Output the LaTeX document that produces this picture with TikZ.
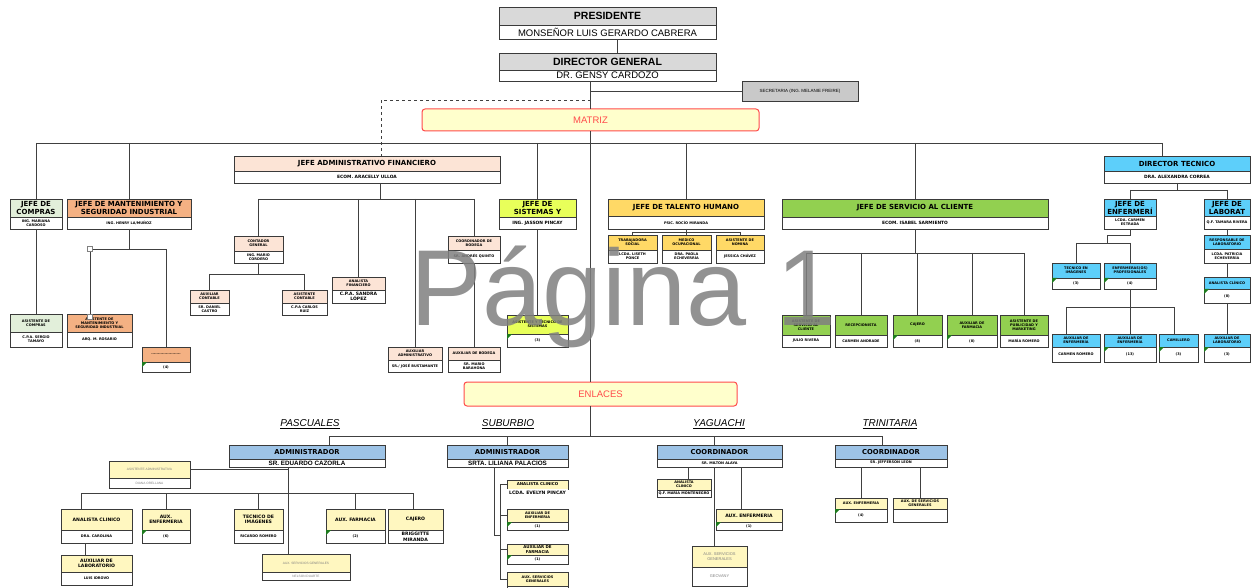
\documentclass[tikz,border=0pt]{standalone}
\usepackage{fontspec}
\setmainfont{Liberation Sans}
\newfontfamily\djv{DejaVu Sans}
\usetikzlibrary{calc}
\definecolor{cGray}{HTML}{D9D9D9}
\definecolor{cSec}{HTML}{C9C9C9}
\definecolor{cRed}{HTML}{FF4B4B}
\definecolor{cCream}{HTML}{FFFFCC}
\definecolor{cGreenL}{HTML}{E2EFDA}
\definecolor{cOrange}{HTML}{F4B183}
\definecolor{cPeach}{HTML}{FCE4D6}
\definecolor{cLime}{HTML}{E8FF5A}
\definecolor{cYellow}{HTML}{FFD966}
\definecolor{cGreen}{HTML}{92D050}
\definecolor{cSky}{HTML}{5DCFFA}
\definecolor{cBlue}{HTML}{9DC3E6}
\definecolor{cYel}{HTML}{FFF7C0}
\definecolor{bd}{HTML}{3A3A3A}
\definecolor{ln}{HTML}{404040}
\definecolor{cTri}{HTML}{1E7B1E}
\definecolor{cWm}{HTML}{808080}
\newcommand\zBig{\fontsize{10.5}{12}\selectfont\bfseries}
\newcommand\zBigS{\fontsize{9.5}{11}\selectfont}
\newcommand\zJ{\djv\bfseries\fontsize{7}{8}\selectfont}
\newcommand\zJs{\djv\bfseries\fontsize{4.4}{5}\selectfont}
\newcommand\zS{\djv\bfseries\fontsize{3.5}{4.2}\selectfont}
\newcommand\zSf{\djv\bfseries\fontsize{4}{4.8}\selectfont}
\newcommand\zSe{\djv\bfseries\fontsize{4.6}{5.2}\selectfont}
\newcommand\zAn{\djv\bfseries\fontsize{4.5}{5}\selectfont}
\newcommand\zM{\djv\bfseries\fontsize{4.6}{5.6}\selectfont}
\newcommand\zA{\djv\bfseries\fontsize{6.8}{8}\selectfont}
\newcommand\zAs{\bfseries\fontsize{6.3}{7}\selectfont}
\newcommand\zG{\color{gray}\fontsize{3.2}{4}\selectfont}
\newcommand\zGG{\color{gray}\fontsize{4}{5}\selectfont}
\newcommand\zSec{\fontsize{4.5}{5}\selectfont}
\newcommand\cursf{\zS}
\tikzset{subfont/.code={\gdef\cursf{#1}}}
% box: name, x1, x2, ytop, ymid, ybot, title style, title, subtitle
\newcommand\ob[9]{%
  \gdef\cursf{\zS}%
  \node[tpart,#7,minimum width={#3-#2},minimum height={#5-#4},anchor=north] (#1-t) at ({(#2+#3)/2},#4) {#8};
  \node[bpart,font=\cursf,minimum width={#3-#2},minimum height={#6-#5},anchor=north] (#1-b) at (#1-t.south) {#9};
}
\newcommand\obn[9]{%
  \gdef\cursf{\zS}%
  \node[tpart,#7,minimum width={#3-#2},minimum height={#5-#4},anchor=north] (#1-t) at ({(#2+#3)/2},#4) {#8};
  \node[bpart,draw=none,font=\cursf,minimum width={#3-#2},minimum height={#6-#5},anchor=north] (#1-b) at (#1-t.south) {#9};
}
\newcommand\tri[1]{\fill[cTri] (#1-b.north west) -- ($(#1-b.north west)+(5,0)$) -- ($(#1-b.north west)+(0,5)$) -- cycle;}
\begin{document}
\begin{tikzpicture}[x=1pt,y=-1pt,
  tpart/.style={draw=bd,line width=0.9pt,inner sep=0pt,outer sep=0pt,align=center,font=\zS},
  bpart/.style={draw=bd,line width=0.9pt,inner sep=0pt,outer sep=0pt,align=center,fill=white},
  con/.style={draw=ln,line width=0.9pt},
  handle/.style={draw=gray,fill=white,line width=0.6pt,minimum size=5pt,inner sep=0pt},
  lbl/.style={font=\fontsize{10}{12}\selectfont\itshape,inner sep=0pt},
  band/.style={draw=cRed,line width=1pt,rounded corners=3pt,fill=cCream,inner sep=0pt,outer sep=0pt,text=cRed,font=\fontsize{9.5}{11}\selectfont,anchor=north west}
]
\path[use as bounding box] (0,0) rectangle (1251,588);
\clip (0,0) rectangle (1251,588);
\fill[white] (0,0) rectangle (1251,588);

% ---------- top ----------
\ob{pres}{499}{716}{7}{25}{39}{fill=cGray,font=\zBig,subfont=\zBigS}{PRESIDENTE}{MONSEÑOR LUIS GERARDO CABRERA}
\ob{dg}{499}{716}{53}{70}{81}{fill=cGray,font=\zBig,subfont=\zBigS}{DIRECTOR GENERAL}{DR. GENSY CARDOZO}
\node[tpart,fill=cSec,font=\zSec,minimum width=116,minimum height=20,anchor=north west] (sec) at (742,81) {SECRETARIA (ING. MELANIE FREIRE)};
\node[band,minimum width=337,minimum height=22] (matriz) at (422,109) {MATRIZ};
\node[band,minimum width=273,minimum height=24] (enl) at (464,382) {ENLACES};

% ---------- jefes ----------
\ob{comp}{10}{62}{199}{217}{229}{fill=cGreenL,font=\zJ}{JEFE DE\\COMPRAS}{ING. MARIANA\\CARDOSO}
\ob{mant}{67}{191}{199}{217}{229}{fill=cOrange,font=\zJ}{JEFE DE MANTENIMIENTO Y\\SEGURIDAD INDUSTRIAL}{ING. HENRY LA/MUÑOZ}
\ob{adm}{234}{500}{156}{171}{183}{fill=cPeach,font=\zJ,subfont=\zJs}{JEFE ADMINISTRATIVO FINANCIERO}{ECOM. ARACELLY ULLOA}
\ob{sis}{499}{576}{199}{217}{229}{fill=cLime,font=\zJ,subfont=\zJs}{JEFE DE\\SISTEMAS Y}{ING. JASSON PINCAY}
\ob{th}{608}{764}{199}{216}{229}{fill=cYellow,font=\zJ}{JEFE DE TALENTO HUMANO}{PSIC. ROCÍO MIRANDA}
\ob{sc}{782}{1048}{199}{217}{229}{fill=cGreen,font=\zJ,subfont=\zJs}{JEFE DE SERVICIO AL CLIENTE}{ECOM. ISABEL SARMIENTO}
\ob{dt}{1104}{1250}{156}{171}{183}{fill=cSky,font=\zJ,subfont=\zJs}{DIRECTOR TECNICO}{DRA. ALEXANDRA CORREA}

% ---------- compras / mantenimiento ----------
\ob{acomp}{10}{62}{314}{332}{347}{fill=cGreenL}{ASISTENTE DE\\COMPRAS}{C.P.A. SERGIO\\TAMAYO}
\ob{amant}{67}{132}{314}{332}{347}{fill=cOrange}{ASISTENTE DE\\MANTENIMIENTO Y\\SEGURIDAD INDUSTRIAL}{ARQ. M. ROSARIO}
\ob{dots}{142}{190}{347}{362}{372}{fill=cOrange}{......................}{(4)}
\tri{dots}

% ---------- administrativo ----------
\ob{cont}{234}{283}{236}{251}{263}{fill=cPeach}{CONTADOR\\GENERAL}{ING. MARIO\\CORDERO}
\ob{auxc}{190}{229}{290}{303}{315}{fill=cPeach}{AUXILIAR\\CONTABLE}{SR. DANIEL\\CASTRO}
\ob{asic}{282}{327}{290}{303}{315}{fill=cPeach}{ASISTENTE\\CONTABLE}{C.P.A CARLOS\\RUIZ}
\ob{anfi}{332}{385}{277}{290}{303}{fill=cPeach,subfont=\zAn}{ANALISTA\\FINANCIERO}{C.P.A. SANDRA\\LÓPEZ}
\ob{bod}{448}{500}{236}{250}{263}{fill=cPeach}{COORDINADOR DE\\BODEGA}{SR. ANDRÉS QUINTO}
\ob{aadm}{388}{442}{347}{360}{372}{fill=cPeach}{AUXILIAR\\ADMINISTRATIVO}{SR./ JOSÉ BUSTAMANTE}
\ob{abod}{448}{500}{347}{360}{372}{fill=cPeach}{AUXILIAR DE BODEGA}{SR. MARIO\\BARAHONA}

% ---------- sistemas ----------
\ob{ats}{507}{568}{315}{334}{347}{fill=cLime}{ASISTENTE Y TECNICO DE\\SISTEMAS}{(3)}
\tri{ats}

% ---------- talento humano ----------
\ob{ts}{608}{657}{235}{250}{263}{fill=cYellow}{TRABAJADORA\\SOCIAL}{LCDA. LISETH\\PONCE}
\ob{mo}{662}{711}{235}{250}{263}{fill=cYellow}{MEDICO\\OCUPACIONAL}{DRA. PAOLA\\ECHEVERRÍA}
\ob{an}{716}{764}{235}{250}{263}{fill=cYellow}{ASISTENTE DE\\NOMINA}{JESSICA CHÁVEZ}

% ---------- servicio al cliente ----------
\ob{sc1}{782}{830}{315}{335}{347}{fill=cGreen}{ASISTENTE DE\\SERVICIO AL\\CLIENTE}{JULIO RIVERA}
\ob{sc2}{835}{887}{315}{335}{347}{fill=cGreen}{RECEPCIONISTA}{CARMEN ANDRADE}
\ob{sc3}{893}{942}{315}{335}{347}{fill=cGreen}{CAJERO}{(8)}
\ob{sc4}{947}{997}{315}{335}{347}{fill=cGreen}{AUXILIAR DE\\FARMACIA}{(8)}
\ob{sc5}{1000}{1048}{315}{335}{347}{fill=cGreen}{ASISTENTE DE\\PUBLICIDAD Y\\MARKETING}{MARÍA ROMERO}
\tri{sc3}\tri{sc4}

% ---------- director tecnico ----------
\ob{enf}{1104}{1156}{199}{216}{229}{fill=cSky,font=\zJ}{JEFE DE\\ENFERMERÍ}{LCDA. CARMEN\\ESTRADA}
\ob{lab}{1204}{1250}{199}{216}{229}{fill=cSky,font=\zJ}{JEFE DE\\LABORAT}{Q.F. TAMARA RIVERA}
\ob{resp}{1204}{1250}{235}{249}{263}{fill=cSky}{RESPONSABLE DE\\LABORATORIO}{LCDA. PATRICIA\\ECHEVERRÍA}
\ob{anlab}{1204}{1250}{277}{289}{303}{fill=cSky}{ANALISTA CLÍNICO}{(8)}
\ob{auxlab}{1204}{1250}{334}{347}{362}{fill=cSky}{AUXILIAR DE\\LABORATORIO}{(3)}
\ob{timg}{1052}{1100}{263}{278}{289}{fill=cSky}{TECNICO EN\\IMÁGENES}{(3)}
\ob{enfp}{1104}{1156}{263}{278}{289}{fill=cSky}{ENFERMERAS(OS)\\PROFESIONALES}{(4)}
\ob{auxe1}{1052}{1100}{334}{347}{362}{fill=cSky}{AUXILIAR DE\\ENFERMERÍA}{CARMEN ROMERO}
\ob{auxe2}{1104}{1156}{334}{347}{362}{fill=cSky}{AUXILIAR DE\\ENFERMERÍA}{(13)}
\ob{cami}{1159}{1198}{334}{347}{362}{fill=cSky}{CAMILLERO}{(3)}
\tri{anlab}\tri{auxlab}\tri{timg}\tri{enfp}\tri{auxe2}\tri{cami}

% ---------- enlaces ----------
\ob{pas}{229}{385}{445}{459}{467}{fill=cBlue,font=\zA,subfont=\zAs}{ADMINISTRADOR}{SR. EDUARDO CAZORLA}
\ob{sub}{447}{568}{445}{459}{467}{fill=cBlue,font=\zA,subfont=\zAs}{ADMINISTRADOR}{SRTA. LILIANA PALACIOS}
\ob{yag}{657}{782}{445}{459}{467}{fill=cBlue,font=\zA}{COORDINADOR}{SR. MILTON ALAYA}
\ob{tri}{835}{947}{445}{459}{467}{fill=cBlue,font=\zA}{COORDINADOR}{SR. JEFFERSON LEON}
\node[lbl] (lpas) at (310,424) {\underline{PASCUALES}};
\node[lbl] (lsub) at (508,424) {\underline{SUBURBIO}};
\node[lbl] (lyag) at (719,424) {\underline{YAGUACHI}};
\node[lbl] (ltri) at (890,424) {\underline{TRINITARIA}};

% Pascuales
\ob{aadma}{109}{190}{461}{478}{488}{fill=cYel,font=\zG,subfont=\zG}{ASISTENTE ADMINISTRATIVA}{DIANA ORELLANA}
\ob{pac}{61}{132}{509}{530}{543}{fill=cYel,font=\zM}{ANALISTA CLINICO}{DRA. CAROLINA}
\ob{pae}{142}{190}{509}{530}{543}{fill=cYel,font=\zM}{AUX.\\ENFERMERIA}{(6)}
\ob{pti}{234}{283}{509}{530}{543}{fill=cYel,font=\zM}{TECNICO DE\\IMÁGENES}{RICARDO ROMERO}
\ob{paf}{326}{385}{509}{530}{543}{fill=cYel,font=\zM}{AUX. FARMACIA}{(2)}
\ob{pcj}{388}{443}{509}{530}{543}{fill=cYel,font=\zM,subfont=\zM}{CAJERO}{BRIGGITTE\\MIRANDA}
\ob{pal}{61}{132}{555}{572}{585}{fill=cYel,font=\zM}{AUXILIAR DE\\LABORATORIO}{LUIS IDROVO}
\ob{pasg}{262}{350}{554}{572}{580}{fill=cYel,font=\zG,subfont=\zG}{AUX. SERVICIOS GENERALES}{NELSON DUARTE}
\tri{pae}\tri{paf}

% Suburbio
\obn{sac}{507}{568}{480}{489}{497}{fill=cYel,font=\zSf,subfont=\zSe}{ANALISTA CLINICO}{LCDA. EVELYN PINCAY}
\ob{sae}{507}{568}{509}{522}{530}{fill=cYel}{AUXILIAR DE\\ENFERMERIA}{(1)}
\ob{saf}{507}{568}{544}{555}{564}{fill=cYel,font=\zSf}{AUXILIAR DE\\FARMACIA}{(1)}
\ob{ssg}{507}{568}{572}{586}{600}{fill=cYel}{AUX. SERVICIOS\\GENERALES}{}
\tri{sae}\tri{saf}

% Yaguachi
\ob{yac}{657}{711}{479}{490}{497}{fill=cYel}{ANALISTA\\CLINICO}{Q.F. MARÍA MONTENEGRO}
\ob{yae}{716}{782}{509}{522}{530}{fill=cYel,font=\zM}{AUX. ENFERMERIA}{(1)}
\ob{ysg}{692}{747}{546}{567}{586}{fill=cYel,font=\zGG,subfont=\zGG}{AUX. SERVICIOS\\GENERALES}{GEOVANY}
\tri{yae}

% Trinitaria
\ob{tae}{835}{887}{498}{509}{522}{fill=cYel}{AUX. ENFERMERIA}{(4)}
\ob{tsg}{893}{947}{498}{509}{522}{fill=cYel}{AUX. DE SERVICIOS\\GENERALES}{}
\tri{tae}

% ---------- connectors ----------
\draw[con] ($(pres-b.south)+(10,0)$) -- ($(dg-t.north)+(10,0)$);
\draw[con] (dg-b.south -| matriz.north) -- (matriz.north);
\draw[con] (sec.west) -- (sec.west -| matriz.north);
\coordinate (dsh) at (381,100);
\draw[con,dashed] (dsh -| matriz.north) -- (dsh) -- (dsh |- adm-t.north);
\coordinate (busL) at (36,143);
\coordinate (busR) at (1162,143);
\draw[con] (busL) -- (busR);
\draw[con] (matriz.south) -- (enl.north -| matriz.south);
\draw[con] (busL) -- (comp-t.north);
\draw[con] (mant-t.north |- busL) -- (mant-t.north);
\draw[con] (sis-t.north |- busL) -- (sis-t.north);
\draw[con] (th-t.north |- busL) -- (th-t.north);
\draw[con] (sc-t.north |- busL) -- (sc-t.north);
\draw[con] (busR) -- (busR |- dt-t.north);

\draw[con] (comp-b.south) -- (acomp-t.north);
\coordinate (mh) at (90,249);
\draw[con] (mant-b.south) -- (mant-b.south |- mh);
\draw[con] (mh) -- (mh -| dots-t.north) -- (dots-t.north);
\draw[con] (mh) -- (mh |- amant-t.north);
\node[handle] (h1) at (mh) {};
\node[handle] (h2) at ($(mh |- amant-t.north)+(0,3)$) {};

\coordinate (ab) at (380,199);
\draw[con] (adm-b.south -| ab) -- (ab);
\draw[con] (cont-t.north |- ab) -- (bod-t.north |- ab);
\foreach \n in {cont,anfi,aadm,bod} \draw[con] (\n-t.north |- ab) -- (\n-t.north);
\coordinate (cb) at (0,274);
\draw[con] (cont-b.south) -- (cont-b.south |- cb);
\draw[con] (auxc-t.north |- cb) -- (asic-t.north |- cb);
\foreach \n in {auxc,asic} \draw[con] (\n-t.north |- cb) -- (\n-t.north);
\draw[con] (bod-b.south) -- (abod-t.north);
\draw[con] (sis-b.south) -- (ats-t.north);

\coordinate (thb) at (0,232);
\draw[con] (th-b.south) -- (th-b.south |- thb);
\draw[con] (ts-t.north |- thb) -- (an-t.north |- thb);
\foreach \n in {ts,mo,an} \draw[con] (\n-t.north |- thb) -- (\n-t.north);

\coordinate (scb) at (0,253);
\draw[con] (sc-b.south) -- (sc-b.south |- scb);
\draw[con] (sc1-t.north |- scb) -- (sc5-t.north |- scb);
\foreach \n in {sc1,sc2,sc3,sc4,sc5} \draw[con] (\n-t.north |- scb) -- (\n-t.north);

\coordinate (dtb) at (0,190);
\draw[con] (dt-b.south) -- (dt-b.south |- dtb);
\draw[con] (enf-t.north |- dtb) -- (lab-t.north |- dtb);
\foreach \n in {enf,lab} \draw[con] (\n-t.north |- dtb) -- (\n-t.north);
\coordinate (ek) at (1107,235);
\coordinate (eb) at (1107,243);
\draw[con] (enf-b.south) |- (ek) -- (eb);
\draw[con] (timg-t.north |- eb) -- (enfp-t.north |- eb);
\foreach \n in {timg,enfp} \draw[con] (\n-t.north |- eb) -- (\n-t.north);
\coordinate (e2) at (1066,307);
\coordinate (e3) at (1174,307);
\draw[con] (enfp-b.south) -- (enfp-b.south |- e2);
\draw[con] (e2) -- (e3);
\draw[con] (e2) -- (e2 |- auxe1-t.north);
\draw[con] (e3) -- (e3 |- cami-t.north);
\draw[con] (enfp-b.south |- e2) -- (auxe2-t.north);
\draw[con] (lab-b.south) -- (resp-t.north);
\draw[con] (resp-b.south) -- (anlab-t.north);
\draw[con] (anlab-b.south) -- (auxlab-t.north);

% lower
\coordinate (lb1) at (329,436);
\coordinate (lb2) at (507,436);
\coordinate (lb3) at (714,436);
\coordinate (lb4) at (882,436);
\draw[con] (enl.south -| matriz.south) -- (matriz.south |- lb1);
\draw[con] (lb1) -- (lb4);
\draw[con] (lb1) -- (lb1 |- pas-t.north);
\draw[con] (lb2) -- (lb2 |- sub-t.north);
\draw[con] (lb3) -- (lb3 |- yag-t.north);
\draw[con] (lb4) -- (lb4 |- tri-t.north);

\coordinate (pv) at (288,473);
\draw[con] (pv |- pas-b.south) -- (pv |- pasg-t.north);
\draw[con] (aadma-t.east) -- (aadma-t.east -| pv);
\coordinate (pb1) at (81,493);
\coordinate (pb2) at (413,493);
\draw[con] (pb1) -- (pb2);
\draw[con] (pb1) -- (pb1 |- pac-t.north);
\draw[con] (pb2) -- (pb2 |- pcj-t.north);
\foreach \n in {pae,pti,paf} \draw[con] (\n-t.north |- pb1) -- (\n-t.north);
\draw[con] ($(pac-b.south)+(-11,0)$) -- ($(pal-t.north)+(-11,0)$);

\coordinate (sv) at (494,535);
\coordinate (sbt) at (500,488);
\draw[con] (sv |- sub-b.south) -- (sv) -- (sv -| sbt);
\draw[con] (sbt |- sac-t.west) -- (sbt |- ssg-t.west);
\foreach \n in {sac,sae,saf,ssg} \draw[con] (sbt |- \n-t.west) -- (\n-t.west);

\coordinate (yv1) at (688,0);
\coordinate (yv2) at (741,0);
\coordinate (yv3) at (714,0);
\draw[con] (yv1 |- yag-b.south) -- (yv1 |- yac-t.north);
\draw[con] (yv2 |- yag-b.south) -- (yv2 |- yae-t.north);
\draw[con] (yv3 |- yag-b.south) -- (yv3 |- ysg-t.north);
\draw[con] (tae-t.north |- tri-b.south) -- (tae-t.north);
\draw[con] (tsg-t.north |- tri-b.south) -- (tsg-t.north);

% watermark
\node[anchor=base west,inner sep=0pt,text=cWm,opacity=0.85,font=\fontsize{108}{120}\selectfont] (wm) at (410,326) {Página 1};
\end{tikzpicture}
\end{document}
